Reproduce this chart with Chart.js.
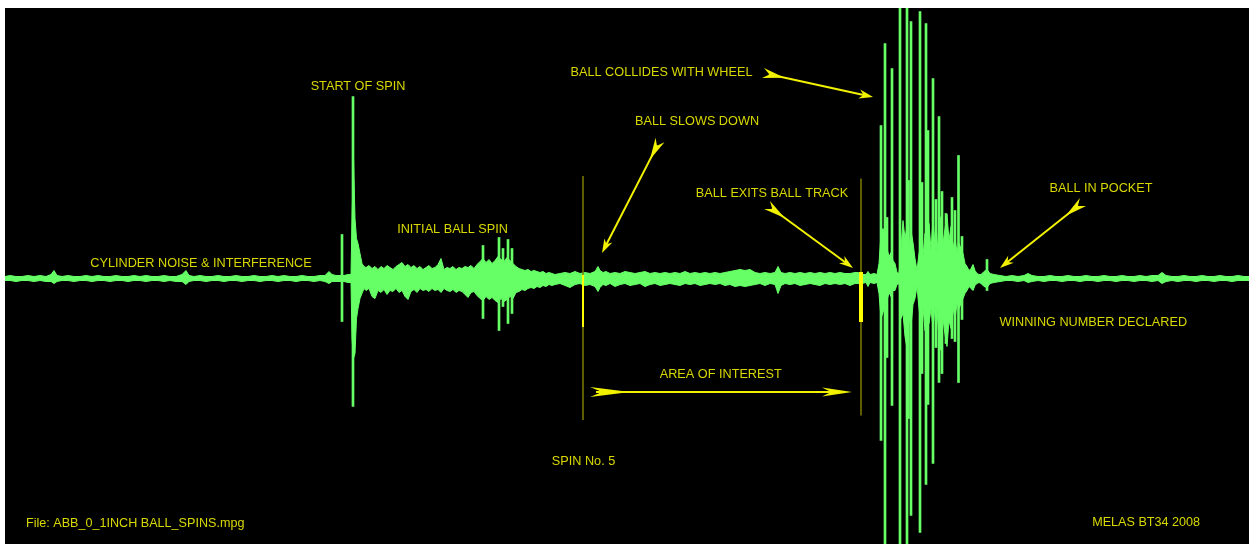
<!DOCTYPE html>
<html>
<head>
<meta charset="utf-8">
<title>Roulette spin sound trace</title>
<script src="https://cdn.jsdelivr.net/npm/chart.js@4.4.1/dist/chart.umd.min.js"></script>
<style>
  html, body { margin: 0; padding: 0; background: #ffffff; }
  #wrap { position: relative; width: 1249px; height: 544px; }
</style>
</head>
<body>
<div id="wrap"><canvas id="trace"></canvas></div>
<script>
// ---- Audio envelope of one spin (frame index, amplitude above / below the rest line) ----
const envFrame = [
  5, 10, 16, 22, 28, 34, 40, 46, 51, 54, 57, 62, 68, 74, 80, 86, 92, 98, 104, 110,
  116, 122, 128, 134, 140, 146, 152, 158, 164, 170, 176, 182, 186, 189, 194, 200, 206, 212, 218, 224,
  230, 236, 242, 248, 254, 260, 266, 272, 278, 284, 290, 296, 302, 308, 314, 320, 325, 329, 332, 336,
  339, 344, 348, 351, 352, 353.5, 355, 356.5, 358, 360, 362, 364,
  366, 369, 372, 375, 378, 381, 384, 387, 390, 393, 396, 399, 402, 405, 408, 411,
  414, 417, 420, 423, 426, 429, 432, 435, 438, 441, 444, 447, 450, 453, 456, 459,
  462, 465, 468, 471, 474, 477, 480, 483, 486, 489, 492, 495, 498, 501, 504, 507,
  510, 513, 516, 519, 522, 525, 528, 531, 534, 537, 540, 543, 546, 549, 552, 555,
  560, 565, 570, 575, 580, 585, 590, 595, 598, 600, 603, 606, 610, 615, 620, 625,
  630, 635, 640, 645, 650, 655, 660, 665, 670, 675, 680, 685, 690, 695, 700, 705,
  710, 715, 720, 725, 730, 735, 740, 745, 750, 755, 760, 765, 770, 775, 778, 781,
  785, 790, 795, 800, 805, 810, 815, 820, 825, 830, 835, 840, 845, 850, 855,
  858, 862, 866, 868, 870, 874, 877, 879, 881, 883, 885, 887, 889, 891, 893, 895,
  897, 899, 901, 903, 905, 907, 909, 911, 913, 915, 917, 919, 921, 923, 925, 927,
  929, 931, 933, 935, 937, 939, 941, 943, 945, 947, 949, 951, 953, 955, 957, 959,
  961, 963, 965, 967, 969, 971, 973, 975, 977, 979,
  981, 984, 987, 990, 994, 1000, 1006, 1012, 1018, 1024, 1028, 1032, 1038, 1044, 1050, 1056,
  1062, 1068, 1074, 1080, 1086, 1092, 1098, 1104, 1110, 1116, 1122, 1128, 1134, 1140, 1146, 1152,
  1158, 1162, 1166, 1172, 1178, 1184, 1190, 1196, 1202, 1208, 1214, 1220, 1226, 1232, 1238, 1244, 1249
];
const envPeak = [
  2, 3, 2, 2, 3, 2, 3, 2, 4, 8, 3, 2, 3, 2, 2, 3, 2, 3, 2, 2,
  3, 2, 2, 3, 2, 3, 2, 2, 3, 2, 2, 4, 8, 3, 2, 3, 2, 2, 3, 2,
  2, 3, 2, 2, 3, 2, 2, 3, 2, 3, 2, 2, 3, 2, 2, 3, 3, 7, 4, 3,
  3, 3, 4, 4, 60, 120, 60, 40, 35, 25, 15, 12,
  11, 13, 10, 12, 9, 12, 10, 13, 11, 9, 12, 14, 16, 12, 14, 11,
  13, 10, 12, 9, 11, 13, 10, 11, 14, 20, 9, 11, 10, 12, 9, 11,
  10, 12, 11, 13, 10, 14, 17, 20, 16, 19, 15, 18, 22, 19, 17, 21,
  18, 15, 12, 10, 9, 8, 9, 7, 8, 7, 6, 7, 5, 6, 5, 4,
  5, 6, 5, 7, 5, 6, 5, 7, 12, 8, 6, 7, 5, 6, 5, 7,
  6, 5, 6, 7, 5, 6, 5, 6, 5, 6, 5, 7, 5, 6, 5, 6,
  5, 6, 5, 6, 7, 8, 9, 8, 9, 6, 5, 6, 5, 6, 12, 6,
  5, 6, 5, 6, 5, 6, 5, 6, 5, 6, 5, 6, 5, 5, 6,
  6, 4, 4, 7, 4, 5, 4, 15, 45, 50, 42, 30, 22, 26, 18, 15,
  6, 5, 30, 58, 40, 52, 30, 48, 36, 20, 8, 25, 32, 22, 45, 30,
  55, 28, 60, 32, 25, 55, 62, 35, 50, 64, 38, 52, 30, 40, 26, 35,
  30, 25, 15, 12, 8, 10, 14, 8, 5, 4,
  4, 7, 9, 5, 4, 3, 2, 3, 2, 3, 5, 3, 2, 2, 3, 2,
  2, 3, 2, 2, 3, 2, 2, 3, 2, 2, 3, 2, 2, 3, 2, 3,
  3, 6, 3, 2, 2, 3, 2, 2, 3, 2, 2, 3, 2, 2, 3, 2, 2
];
const envTrough = [
  -2, -2, -3, -2, -2, -3, -2, -3, -3, -5, -3, -2, -2, -3, -2, -2, -3, -2, -2, -3,
  -2, -2, -3, -2, -2, -3, -2, -2, -3, -2, -3, -3, -6, -3, -2, -2, -3, -2, -2, -3,
  -2, -2, -3, -2, -2, -3, -2, -2, -3, -2, -2, -3, -2, -2, -3, -2, -3, -5, -3, -3,
  -3, -3, -4, -4, -60, -80, -75, -40, -30, -20, -15, -10,
  -12, -10, -18, -20, -12, -14, -11, -16, -12, -13, -10, -14, -12, -18, -21, -13,
  -11, -14, -10, -12, -11, -13, -10, -12, -11, -14, -10, -12, -13, -11, -14, -12,
  -13, -16, -19, -14, -13, -17, -20, -22, -18, -21, -19, -22, -24, -20, -23, -21,
  -18, -20, -14, -13, -11, -12, -10, -9, -10, -8, -9, -7, -8, -6, -7, -6,
  -5, -7, -9, -6, -5, -7, -6, -8, -13, -9, -6, -7, -5, -8, -6, -5,
  -7, -6, -5, -8, -6, -5, -7, -6, -5, -6, -7, -5, -6, -5, -7, -6,
  -5, -6, -5, -7, -6, -8, -7, -8, -7, -6, -5, -7, -5, -6, -15, -7,
  -5, -6, -5, -7, -6, -5, -6, -7, -5, -6, -5, -6, -5, -7, -5,
  -5, -5, -4, -8, -4, -5, -4, -15, -40, -34, -26, -22, -14, -18, -12, -12,
  -6, -5, -40, -35, -58, -70, -40, -48, -26, -20, -8, -30, -45, -28, -52, -36,
  -45, -30, -50, -28, -30, -60, -72, -40, -56, -68, -42, -50, -30, -40, -25, -30,
  -25, -20, -15, -12, -8, -10, -12, -7, -5, -4,
  -5, -8, -9, -5, -4, -3, -2, -2, -3, -2, -4, -3, -2, -3, -2, -2,
  -3, -2, -2, -3, -2, -2, -3, -2, -2, -3, -2, -2, -3, -2, -2, -3,
  -2, -5, -3, -2, -3, -2, -2, -3, -2, -2, -3, -2, -2, -3, -2, -2, -2
];

// ---- Sharp transients (single-frame clicks) ----
const spikeFrame  = [342, 353, 483, 499, 503, 508, 512, 881, 885, 887, 892, 900, 907, 908.5, 911, 920, 922, 926, 928, 933, 936, 939, 942, 946, 952, 955, 958.5, 962, 987];
const spikePeak   = [44, 182, 33, 41, 30, 39, 30, 153, 235, 61, 210, 300, 300, 98, 257, 267, 96, 255, 148, 200, 79, 162, 87, 65, 81, 68, 123, 42, 19];
const spikeTrough = [-43, -128, -40, -52, -28, -45, -35, -162, -300, -79, -127, -300, -300, -140, -237, -254, -95, -206, -126, -185, -69, -104, -95, -65, -60, -63, -104, -41, -12];

// ---- Event notes ----
const noteText = [
  'START OF SPIN', 'CYLINDER NOISE & INTERFERENCE', 'INITIAL BALL SPIN',
  'BALL COLLIDES WITH WHEEL', 'BALL SLOWS DOWN', 'BALL EXITS BALL TRACK',
  'BALL IN POCKET', 'AREA OF INTEREST', 'SPIN No. 5', 'WINNING NUMBER DECLARED'
];
const footLeft = 'File: ABB_0_1INCH BALL_SPINS.mpg';
const footRight = 'MELAS BT34 2008';

const GREEN = 'rgb(102,255,102)';
const NOTE_YELLOW = '#d8d800';
const ARROW_YELLOW = '#f2f200';
const MARK_OLIVE = '#7c7c00';
const MARK_YELLOW = '#ffff00';

// Layout of the notes in chart units (frame, amplitude)
const notePos = [
  { x: 358, y: 192.5 }, { x: 201, y: 15.5 }, { x: 452.5, y: 49 },
  { x: 661.5, y: 206 }, { x: 697, y: 157.5 }, { x: 772, y: 84.8 },
  { x: 1101, y: 90.5 }, { x: 720.7, y: -96.2 }, { x: 583.5, y: -182.5 },
  { x: 1093.3, y: -43.5 }
];
const arrows = [
  { from: [763, 205.5], to: [873, 181.5], head: 14, tail: 22 },
  { from: [660, 138.5], to: [602, 25.5], head: 14, tail: 22 },
  { from: [767, 73.5], to: [853, 10.5], head: 14, tail: 22 },
  { from: [1083, 76.5], to: [1000, 10.5], head: 14, tail: 22 },
  { from: [590, -113.5], to: [852, -113.5], head: 30, tail: 40 }
];
const markers = [
  { x: 583, top: 102.5, bottom: -141.5, barTop: 3.5, barBottom: -48.5, barWidth: 2 },
  { x: 861, top: 100, bottom: -137, barTop: 6.5, barBottom: -43.5, barWidth: 4 }
];

const backdrop = {
  id: 'backdrop',
  beforeDraw(chart) {
    const { ctx, chartArea: a } = chart;
    ctx.save();
    ctx.fillStyle = '#000000';
    ctx.fillRect(a.left, a.top, a.right - a.left, a.bottom - a.top);
    ctx.restore();
  }
};

function drawArrow(ctx, x1, y1, x2, y2, headLen, tailLen) {
  const dx = x2 - x1, dy = y2 - y1, len = Math.hypot(dx, dy);
  const ux = dx / len, uy = dy / len, px = -uy, py = ux;
  ctx.strokeStyle = ARROW_YELLOW;
  ctx.fillStyle = ARROW_YELLOW;
  ctx.lineWidth = 2;
  ctx.beginPath();
  ctx.moveTo(x1 + ux * 6, y1 + uy * 6);
  ctx.lineTo(x2 - ux * headLen * 0.6, y2 - uy * headLen * 0.6);
  ctx.stroke();
  const hw = 4.5;
  ctx.beginPath();
  ctx.moveTo(x2, y2);
  ctx.lineTo(x2 - ux * headLen + px * hw, y2 - uy * headLen + py * hw);
  ctx.lineTo(x2 - ux * headLen * 0.7, y2 - uy * headLen * 0.7);
  ctx.lineTo(x2 - ux * headLen - px * hw, y2 - uy * headLen - py * hw);
  ctx.closePath();
  ctx.fill();
  const tw = 5;
  ctx.beginPath();
  ctx.moveTo(x1 + ux * tailLen, y1 + uy * tailLen);
  ctx.lineTo(x1 + px * tw, y1 + py * tw);
  ctx.lineTo(x1 + ux * tailLen * 0.3, y1 + uy * tailLen * 0.3);
  ctx.lineTo(x1 - px * tw, y1 - py * tw);
  ctx.closePath();
  ctx.fill();
}

const annotations = {
  id: 'annotations',
  afterDatasetsDraw(chart) {
    const { ctx, scales: { x, y } } = chart;
    ctx.save();
    // spin start / end markers
    markers.forEach(m => {
      const px = x.getPixelForValue(m.x);
      ctx.strokeStyle = MARK_OLIVE;
      ctx.lineWidth = 1.5;
      ctx.beginPath();
      ctx.moveTo(px, y.getPixelForValue(m.top));
      ctx.lineTo(px, y.getPixelForValue(m.bottom));
      ctx.stroke();
      ctx.fillStyle = MARK_YELLOW;
      const t = y.getPixelForValue(m.barTop), b = y.getPixelForValue(m.barBottom);
      ctx.fillRect(px - m.barWidth / 2, t, m.barWidth, b - t);
    });
    // arrows
    arrows.forEach(a => {
      drawArrow(ctx,
        x.getPixelForValue(a.from[0]), y.getPixelForValue(a.from[1]),
        x.getPixelForValue(a.to[0]), y.getPixelForValue(a.to[1]),
        a.head, a.tail);
    });
    // notes
    ctx.fillStyle = NOTE_YELLOW;
    ctx.font = '12.7px "Liberation Sans", Arial, sans-serif';
    ctx.textAlign = 'center';
    ctx.textBaseline = 'middle';
    noteText.forEach((t, i) => {
      ctx.fillText(t, x.getPixelForValue(notePos[i].x), y.getPixelForValue(notePos[i].y));
    });
    ctx.font = '12.6px "Liberation Sans", Arial, sans-serif';
    ctx.textAlign = 'left';
    ctx.fillText(footLeft, x.getPixelForValue(26), y.getPixelForValue(-245.5));
    ctx.textAlign = 'right';
    ctx.fillText(footRight, x.getPixelForValue(1200), y.getPixelForValue(-244.5));
    ctx.restore();
  }
};

new Chart(document.getElementById('trace'), {
  type: 'line',
  data: {
    datasets: [
      {
        type: 'line',
        label: 'peak',
        data: envFrame.map((f, i) => ({ x: f, y: envPeak[i] })),
        borderColor: GREEN,
        backgroundColor: GREEN,
        borderWidth: 1,
        pointRadius: 0,
        tension: 0,
        fill: '+1',
        clip: 0
      },
      {
        type: 'line',
        label: 'trough',
        data: envFrame.map((f, i) => ({ x: f, y: envTrough[i] })),
        borderColor: GREEN,
        backgroundColor: GREEN,
        borderWidth: 1,
        pointRadius: 0,
        tension: 0,
        fill: false,
        clip: 0
      },
      {
        type: 'bar',
        label: 'transients',
        data: spikeFrame.map((f, i) => ({ x: f, y: [spikeTrough[i], spikePeak[i]] })),
        backgroundColor: GREEN,
        borderWidth: 0,
        barThickness: 2,
        grouped: false,
        clip: 0
      }
    ]
  },
  options: {
    animation: false,
    responsive: true,
    maintainAspectRatio: false,
    layout: { padding: { left: 5, top: 8, right: 0, bottom: 0 } },
    plugins: { legend: { display: false }, tooltip: { enabled: false } },
    scales: {
      x: { type: 'linear', min: 5, max: 1249, display: false, offset: false },
      y: { type: 'linear', min: -265.5, max: 270.5, display: false }
    }
  },
  plugins: [backdrop, annotations]
});
</script>
</body>
</html>
